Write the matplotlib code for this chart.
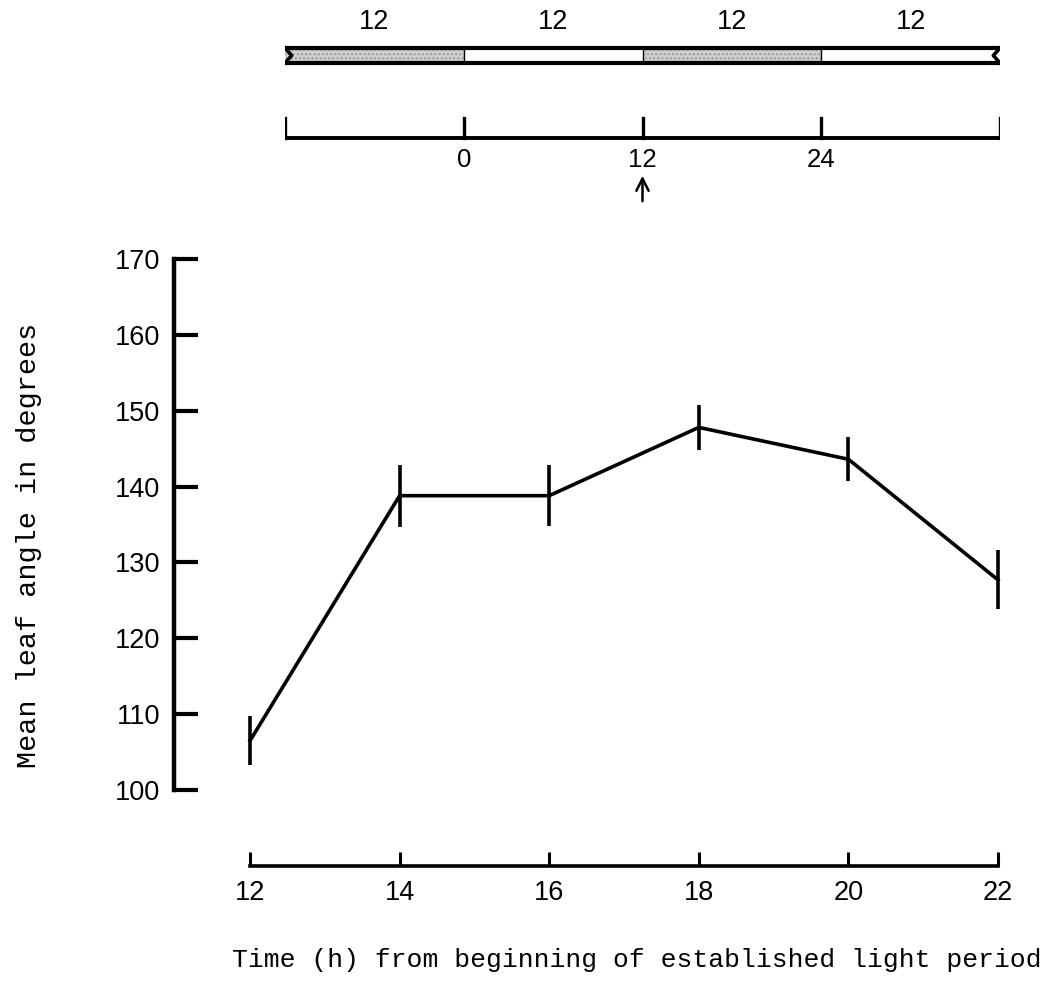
import matplotlib.pyplot as plt
from matplotlib.patches import Rectangle

# leaf angle over time
hours = [12, 14, 16, 18, 20, 22]
angle = [106.5, 138.8, 138.8, 147.8, 143.6, 127.7]
err = [3.2, 4.1, 4.0, 3.0, 2.9, 3.9]
y_ticks = [100, 110, 120, 130, 140, 150, 160, 170]

# light/dark schedule shown above the plot (hours)
period_starts = [-12, 0, 12, 24]
period_len = [12, 12, 12, 12]
period_dark = [True, False, True, False]
sched_ticks = [-12, 0, 12, 24, 36]
sched_labels = ["", "0", "12", "24", ""]
transfer_time = 12

W, H = 1060, 994
fig = plt.figure(figsize=(W / 100, H / 100), dpi=100, facecolor="white")

num_font = dict(family="Liberation Sans", fontsize=19.5)
type_font = dict(family="Liberation Mono", fontsize=19)


def px_box(x0, x1, y0, y1):
    # pixel box -> figure fraction [left, bottom, width, height]
    return [x0 / W, 1 - y1 / H, (x1 - x0) / W, (y1 - y0) / H]


# ---- schedule strip ----
top = fig.add_axes(px_box(285, 1000, 0, 210))
top.set_xlim(-12, 36)
top.set_ylim(210, 0)
top.axis("off")

bar_top, bar_bot = 48, 63
for start, length, dark in zip(period_starts, period_len, period_dark):
    if dark:
        top.add_patch(Rectangle((start, bar_top), length, bar_bot - bar_top,
                                facecolor="#cfcfcf", edgecolor="#9a9a9a",
                                hatch="....", linewidth=0))
    top.text(start + length / 2, 22, str(length), ha="center", va="center", **num_font)
for b in period_starts[1:]:
    top.plot([b, b], [bar_top, bar_bot], color="black", lw=1.0)
top.plot([-12, 36], [bar_top, bar_top], color="black", lw=3.0, solid_capstyle="butt")
top.plot([-12, 36], [bar_bot, bar_bot], color="black", lw=3.0, solid_capstyle="butt")
mid = (bar_top + bar_bot) / 2
top.plot([-12, -11.55, -12], [bar_top, mid, bar_bot], color="black", lw=2.6)
top.plot([36, 35.55, 36], [bar_top, mid, bar_bot], color="black", lw=2.6)

# time scale under the strip
top.plot([-12, 36], [138, 138], color="black", lw=2.8, solid_capstyle="projecting")
for t, lab in zip(sched_ticks, sched_labels):
    top.plot([t, t], [118, 138], color="black", lw=2.4)
    if lab:
        top.text(t, 160, lab, ha="center", va="center", family="Liberation Sans", fontsize=18.5)
top.annotate("", xy=(transfer_time, 173), xytext=(transfer_time, 204),
             arrowprops=dict(arrowstyle="->", color="black", lw=1.8,
                             mutation_scale=22))

# ---- main plot ----
ax = fig.add_axes(px_box(250, 998, 259, 790))
ax.set_xlim(12, 22)
ax.set_ylim(100, 170)
ax.set_facecolor("none")

ax.plot(hours, angle, color="black", lw=2.6, solid_joinstyle="miter", clip_on=False)
ax.errorbar(hours, angle, yerr=err, fmt="none", ecolor="black",
            elinewidth=2.6, capsize=0, clip_on=False)

for side in ["top", "right"]:
    ax.spines[side].set_visible(False)
ax.spines["left"].set_position(("outward", 76 * 0.72))
ax.spines["bottom"].set_position(("outward", 76 * 0.72))
ax.spines["left"].set_bounds(100, 170)
ax.spines["bottom"].set_bounds(12, 22)
ax.spines["left"].set_linewidth(3.2)
ax.spines["bottom"].set_linewidth(2.6)

ax.set_yticks(y_ticks)
ax.set_xticks(hours)
ax.tick_params(axis="y", direction="in", length=17, width=3.0, pad=10)
ax.tick_params(axis="x", direction="in", length=10, width=2.2, pad=10)
for lab in ax.get_xticklabels() + ax.get_yticklabels():
    lab.set_family("Liberation Sans")
    lab.set_fontsize(19.5)

ax.set_xlabel("Time (h) from beginning of established light period", **type_font)
ax.set_ylabel("Mean leaf angle in degrees", family="Liberation Mono", fontsize=20.5)
ax.xaxis.set_label_coords(0.517, -0.297)
ax.yaxis.set_label_coords(-0.278, 0.46)

fig.savefig("out.png", dpi=100)
